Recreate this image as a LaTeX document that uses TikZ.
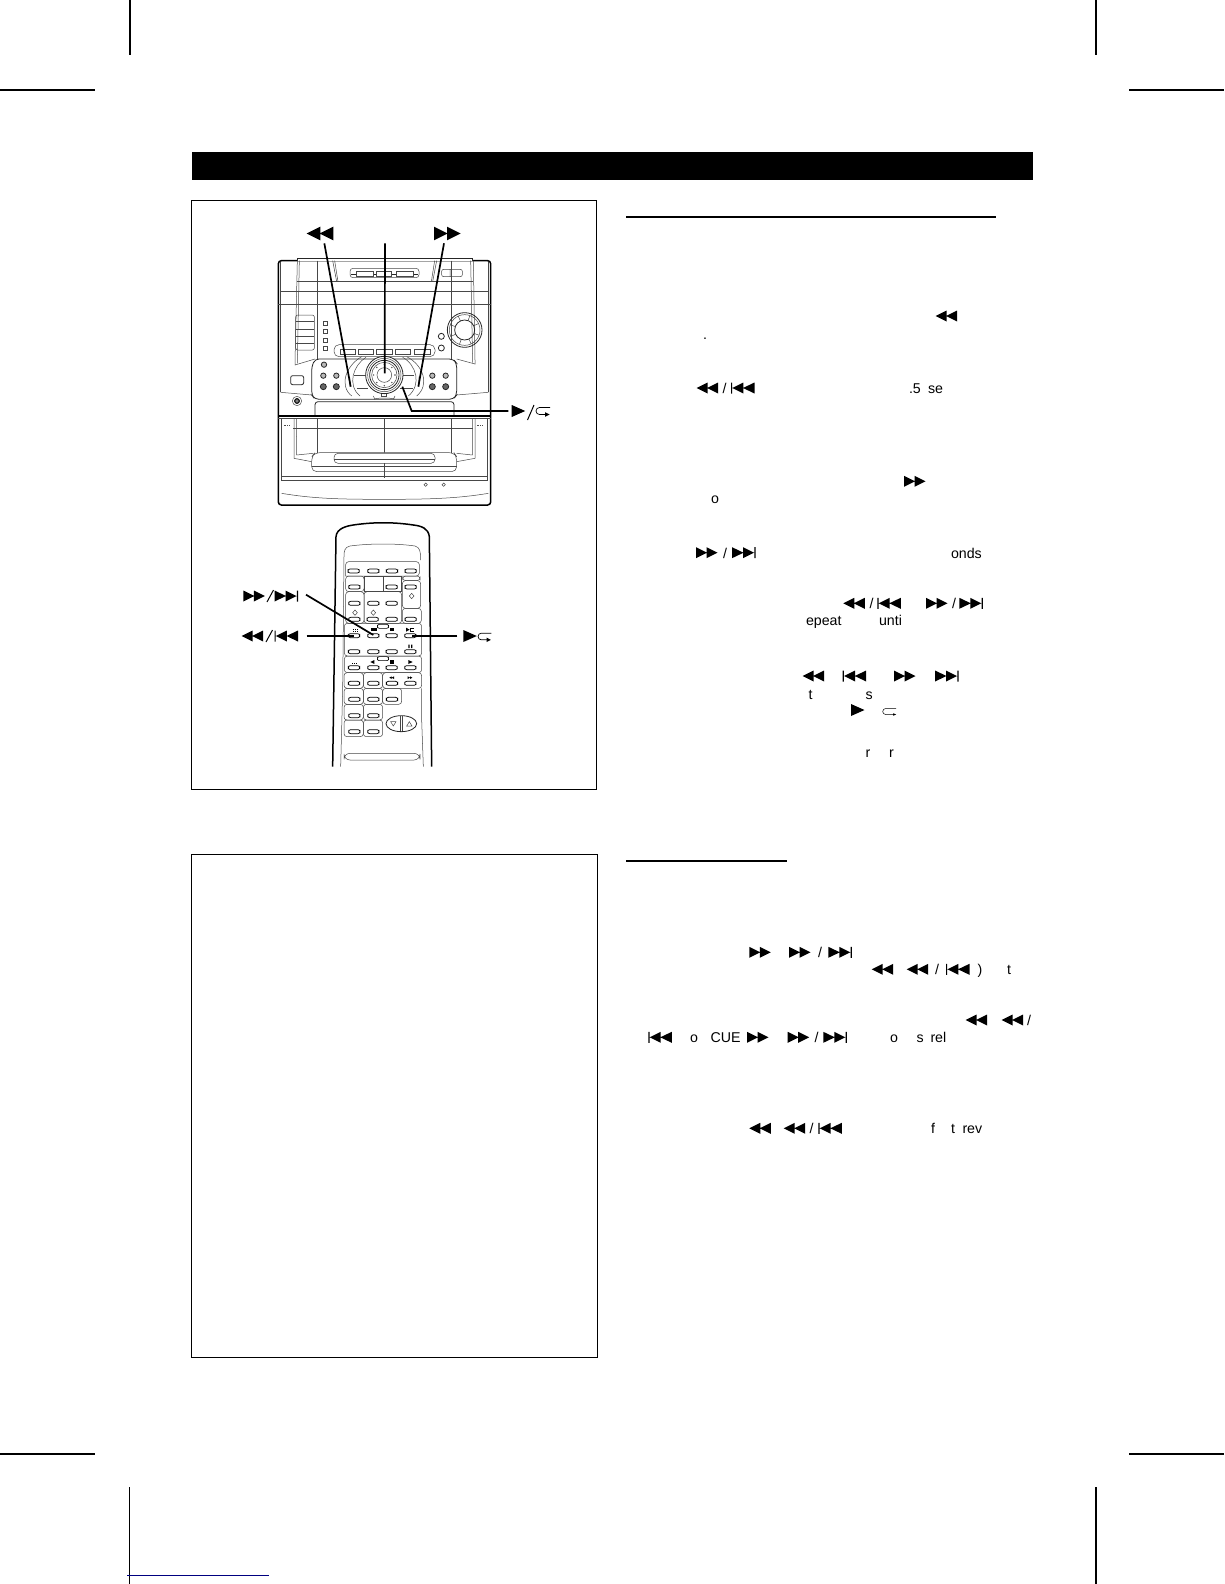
\documentclass[tikz,border=0pt]{standalone}
\usepackage{fontspec}
\setmainfont{Liberation Sans}
\tikzset{
  txt/.style={anchor=base west,inner sep=0pt,outer sep=0pt,font=\fontsize{14.2}{16}\selectfont},
  thin line/.style={line width=.5pt,black!72},
  mid line/.style={line width=.8pt,black!85},
  heavy line/.style={line width=1.5pt,black},
  leader/.style={line width=1.7pt,black},
  mark line/.style={line width=1.3pt,black},
  frame line/.style={line width=1pt,black},
  rew/.pic={\fill (0,0)--(11,-5.5)--(11,5.5)--cycle (10.5,0)--(21.5,-5.5)--(21.5,5.5)--cycle;},
  ffw/.pic={\fill (0,-5.5)--(11,0)--(0,5.5)--cycle (10.5,-5.5)--(21.5,0)--(10.5,5.5)--cycle;},
  prv/.pic={\fill (0,-5.5) rectangle (1.2,5.5) (1.4,0)--(12.4,-5.5)--(12.4,5.5)--cycle (12,0)--(23.5,-5.5)--(23.5,5.5)--cycle;},
  nxt/.pic={\fill (0,-5.5)--(11.5,0)--(0,5.5)--cycle (11,-5.5)--(22,0)--(11,5.5)--cycle (22.3,-5.5) rectangle (23.5,5.5);},
  ply/.pic={\fill (0,-6)--(13.5,0)--(0,6)--cycle;},
  lop/.pic={\draw[line width=.7pt] (13.5,-3.5)--(3,-3.5) arc[start angle=270,end angle=90,radius=3.5]--(9,3.5);\fill (8.5,1.2)--(13,3.5)--(8.5,5.8)--cycle;},
  tinylop/.pic={\draw[line width=.5pt] (13.5,-3)--(3,-3) arc[start angle=270,end angle=90,radius=3]--(11,3);\fill (10.5,1.8)--(13.5,3)--(10.5,4.2)--cycle;},
}
\begin{document}
\begin{tikzpicture}[x=1pt,y=-1pt]
\useasboundingbox (0,0) rectangle (1224,1584);
\fill[white] (0,0) rectangle (1224,1584);
% crop marks
\draw[mark line] (130,0)--(130,55) (1096,0)--(1096,55) (0,90)--(95,90) (1129,90)--(1224,90);
\draw[mark line] (0,1454)--(95,1454) (1129,1454)--(1224,1454) (129.5,1487)--(129.5,1584) (1096,1487)--(1096,1584);
\draw[line width=1pt,color={rgb,255:red,0;green,0;blue,128}] (127,1575)--(269,1575);
% title bar, frames, rules
\fill (192,151.5) rectangle (1033,180);
\draw[frame line] (191.5,200) rectangle (596.5,789);
\draw[frame line] (191.5,854) rectangle (597.5,1357);
\draw[line width=2pt] (626,216.5)--(996,216.5);
\draw[line width=2pt] (626,861)--(787,861);

% ===== main unit (coordinates of a 3x view) =====
\begin{scope}[shift={(260,210)},x=.33333pt,y=-.33333pt]
\draw[heavy line,rounded corners=3pt] (55,885) rectangle (692,152);
\draw[mid line,fill=white] (113,152)--(113,144)--(637,144)--(637,152);
\draw[thin line] (62,155)--(62,545) (685,155)--(685,545);
\draw[thin line] (112,152)--(105,455)--(105,465)--(165,447) (640,152)--(645,450)--(645,462)--(590,447);
\draw[thin line] (118,152)--(112,460) (632,152)--(638,458);
\draw[thin line] (62,243)--(685,243) (110,215)--(640,215) (55,283)--(692,283);
\draw[thin line] (172,152)--(172,447) (573,152)--(573,447);
\draw[thin line] (218,152)--(230,215) (224,152)--(234,215) (530,152)--(518,215) (524,152)--(514,215);
\draw[thin line,rounded corners=3pt,fill=white] (270,175) rectangle (477,203);
\draw[mid line] (272,192)--(475,192);
\foreach \a/\b in {290/340,348/395,408/460}{\draw[thin line,fill=white] (\a,185) rectangle (\b,200);}
\draw[thin line,rounded corners=2pt] (545,178) rectangle (607,200) (570,178)--(570,200);
\draw[thin line,rounded corners=2pt] (107,315) rectangle (163,420);
\draw[thin line] (107,335)--(163,335) (107,357)--(163,357) (107,380)--(163,380) (107,400)--(163,400);
\foreach \y in {340,365,390,416}{\draw[thin line] (190,\y-6) rectangle (203,\y+6);}
% knob and small knobs
\draw[mid line] (614,360) circle[radius=52];
\draw[thin line] (614,360) circle[radius=46];
\draw[mid line] (614,360) circle[radius=30];
\foreach \a in {20,65,...,360}{\draw[thin line] (614,360)++(\a:30)--++(\a:16);}
\draw[mid line] (544,379) circle[radius=9] (544,414) circle[radius=9];
% button strip
\draw[thin line,rounded corners=5pt,fill=white] (222,404) rectangle (525,440);
\foreach \a/\b in {240/285,295/340,350/397,407/452,463/510}{\draw[thin line] (\a,418) rectangle (\b,432);}
% control panel
\draw[mid line,fill=white,rounded corners=4pt] (165,447)--(580,447)--(590,460)--(590,555)--(580,568)--(165,568)--(155,555)--(155,470)--cycle;
\draw[thin line] (62,547)--(155,555) (590,555)--(685,547);
% side buttons
\foreach \x/\y in {192/464,190/497,229/497,517/497,557/497}{\draw[mid line,fill=gray!55] (\x,\y) circle[radius=8];}
\foreach \x/\y in {190/530,229/530,517/530,557/530}{\draw[mid line,fill=gray!80!black] (\x,\y) circle[radius=9];}
% central jog
\draw[thin line] (305,440) .. controls (260,465) and (235,525) .. (275,558);
\draw[thin line] (318,442) .. controls (280,465) and (260,525) .. (300,558);
\draw[thin line] (440,440) .. controls (490,465) and (510,525) .. (470,558);
\draw[thin line] (428,442) .. controls (470,465) and (485,525) .. (445,558);
\draw[thin line] (283,497)--(318,497) (430,497)--(462,497) (290,535)--(325,535) (420,535)--(460,535);
\draw[line width=1.2pt,gray] (268,500)--(271,530) (478,500)--(476,530);
\draw[thin line] (340,558)--(345,568) (405,558)--(400,568) (343,568) arc[start angle=180,end angle=360,x radius=30,y radius=4];
\draw[thin line] (365,540) rectangle (380,558);
\draw[mid line,fill=white] (373,495) circle[radius=56];
\draw[thin line] (373,495) circle[radius=50];
\draw[mid line] (373,495) circle[radius=44];
\draw[thin line] (373,495) circle[radius=38];
\foreach \a in {0,45,...,359}{\fill[black!70] (373,495)++(\a:32) circle[radius=2.4];}
\draw[thin line,fill=white] (373,495) circle[radius=22];
% square + phones
\draw[mid line,rounded corners=2pt] (92,497) rectangle (131,524);
\draw[thin line] (111,573) circle[radius=14];
\draw[line width=1pt,fill=gray] (111,573) circle[radius=7];
% slot
\draw[mid line,rounded corners=3pt] (165,620)--(165,575)--(582,575)--(582,620);
\draw[line width=1.3pt] (55,618)--(692,618);
\draw[thin line] (55,626)--(692,626);
% lower part
\draw[thin line] (65,626)--(65,812) (683,626)--(683,812) (65,812)--(683,812) (65,800)--(683,800);
\draw[thin line] (172,626)--(172,730) (573,626)--(573,730) (373,626)--(373,803);
\draw[thin line] (100,655)--(640,655);
\draw[thin line] (102,626)--(102,745) (109,626)--(110,735) (645,626)--(645,745) (637,626)--(637,735);
\draw[thin line] (110,735)--(160,730) (102,745)--(155,755) (637,735)--(590,730) (645,745)--(590,755);
\draw[thin line,rounded corners=5pt,fill=white] (155,785)--(155,740)--(165,728)--(582,728)--(590,740)--(590,785)--cycle;
\draw[thin line,rounded corners=4pt,fill=white] (222,730) rectangle (525,760);
\draw[thin line] (223,748)--(524,748);
\draw[thin line] (373,760)--(373,803) (155,770)--(590,770);
\draw[thin line] (65,850) .. controls (160,866) and (240,868) .. (373,868) .. controls (500,868) and (590,866) .. (685,850);
\draw[thin line] (497,824) circle[radius=5] (551,824) circle[radius=5];
\foreach \x in {73,80,87}{\fill[black!70] (\x,644) rectangle ++(4,5);}
\foreach \x in {652,659,666}{\fill[black!70] (\x,644) rectangle ++(4,5);}
% leader lines
\coordinate (lr0) at (193,100); \coordinate (lr1) at (272,530);
\coordinate (lc0) at (375,100); \coordinate (lc1) at (374,490);
\coordinate (lf0) at (552,100); \coordinate (lf1) at (475,530);
\coordinate (lp0) at (745,603); \coordinate (lp1) at (455,603); \coordinate (lp2) at (427,530);
\draw[leader] (lr0)--(lr1);
\draw[leader] (lc0)--(lc1);
\draw[leader] (lf0)--(lf1);
\draw[leader] (lp0)--(lp1)--(lp2);
\end{scope}
% labels of the main unit
\pic[scale=1.24] at (306.7,233.5) {rew};
\pic[scale=1.24] at (434,233.5) {ffw};
\pic at (511.7,411) {ply};
\draw[line width=1pt] (527.5,420)--(534,405);
\pic at (536.5,411) {lop};

% ===== remote control =====
\begin{scope}[shift={(230,520)},x=.33333pt,y=-.33333pt]
\draw[line width=1.5pt] (308,740)--(318,50) .. controls (320,25) and (350,18) .. (370,15) .. controls (430,6) and (490,6) .. (550,15) .. controls (575,18) and (595,25) .. (598,50) -- (605,740);
\draw[thin line] (332,740)--(338,510)--(342,110) .. controls (342,90) and (345,82) .. (360,78) .. controls (420,70) and (500,70) .. (555,78) .. controls (570,82) and (572,95) .. (572,120);
\draw[thin line] (575,505)--(575,600)--(580,740);
\draw[thin line,rounded corners=3pt] (347,168)--(347,125)--(568,125)--(568,168)--(347,168);
\draw[thin line,rounded corners=3pt] (347,168) rectangle (402,215);
\draw[thin line] (402,168) rectangle (460,215);
\draw[thin line] (460,168) rectangle (515,215);
\draw[thin line,rounded corners=3pt] (402,215) rectangle (515,310);
\draw[thin line,rounded corners=3pt] (347,215) rectangle (402,310);
\draw[thin line,rounded corners=3pt] (517,182) rectangle (572,265);
\draw[thin line,rounded corners=3pt] (517,265) rectangle (574,310);
\draw[thin line,rounded corners=3pt] (518,168) rectangle (570,182);
\draw[thin line,rounded corners=3pt] (343,310) rectangle (575,408);
\draw[thin line,rounded corners=3pt] (343,408) rectangle (575,458);
\draw[thin line,rounded corners=3pt] (342,458) rectangle (400,505);
\draw[thin line,rounded corners=3pt] (400,458) rectangle (458,505);
\draw[thin line,rounded corners=3pt] (458,458) rectangle (575,505);
\draw[thin line,rounded corners=3pt] (342,505) rectangle (400,553);
\draw[thin line,rounded corners=3pt] (400,505) rectangle (458,553);
\draw[thin line,rounded corners=3pt] (458,505) rectangle (515,553);
\draw[thin line,rounded corners=3pt] (342,553) rectangle (400,600);
\draw[thin line,rounded corners=3pt] (400,553) rectangle (458,600);
\draw[thin line,rounded corners=3pt] (342,600) rectangle (400,650);
\draw[thin line,rounded corners=3pt] (400,600) rectangle (458,650);
\draw[thin line,rounded corners=6pt] (342,700) rectangle (570,720);
\foreach \x/\y in {371/153,430/153,486/153,542/153,
  373/201,485/201,542/201,
  373/250,430/250,485/250,
  373/298,428/298,485/298,542/298,
  372/347,430/347,485/347,541/347,
  372/395,430/395,485/395,541/395,
  372/443,430/443,485/443,541/443,
  372/490,430/490,486/490,541/490,
  373/538,430/538,486/538,
  373/587,430/587,
  373/635,430/635}{
  \draw[line width=.7pt,fill=white,rounded corners=2pt] (\x-17,\y-6) rectangle (\x+17,\y+6);
}
\draw[line width=.6pt,fill=white,rounded corners=2pt] (442,313) rectangle (476,325);
\draw[line width=.6pt,fill=white,rounded corners=2pt] (442,410) rectangle (476,422);
\foreach \x/\y in {545/228,375/278,430/278}{\draw[thin line] (\x-7,\y)--(\x,\y-8)--(\x+7,\y)--(\x,\y+8)--cycle;}
% small key marks
\foreach \x/\y in {375/334,430/330,372/430}{
  \foreach \d in {-6,0,6}{\fill (\x+\d,\y-2) rectangle ++(3.5,3.5);}
}
\foreach \d in {-6,0,6}{\fill (375+\d,327) rectangle ++(3.5,3);\fill (430+\d,323) rectangle ++(3.5,3);}
\fill (481,324) rectangle (491,334);
\fill (481,421) rectangle (491,431);
\fill (528,323)--(539,329)--(528,335)--cycle;
\draw[line width=.5pt] (552,325)--(542,325)--(542,333)--(552,333);
\fill (535,374) rectangle (539,384) (543,374) rectangle (547,384);
\fill (433,420)--(421,426)--(433,432)--cycle;
\fill (535,420)--(548,426)--(535,432)--cycle;
\fill (478,473)--(485,469)--(485,477)--cycle (485,473)--(492,469)--(492,477)--cycle;
\fill (533,469)--(540,473)--(533,477)--cycle (540,469)--(547,473)--(540,477)--cycle;
% up/down rocker
\draw[mid line,fill=white] (514,611) ellipse[x radius=46,y radius=24];
\draw[thin line] (510,588)--(510,634) (516,588)--(516,634);
\draw[thin line] (482,605)--(498,605)--(490,618)--cycle;
\draw[thin line] (530,618)--(546,618)--(538,605)--cycle;
% leaders
\coordinate (ln0) at (228,224); \coordinate (ln1) at (430,345);
\coordinate (lb0) at (230,348); \coordinate (lb1) at (372,348);
\coordinate (lq0) at (682,348); \coordinate (lq1) at (545,348);
\draw[leader] (ln0)--(ln1);
\draw[leader] (lb0)--(lb1);
\draw[leader] (lq0)--(lq1);
\end{scope}
\pic at (243.3,596) {ffw};
\draw[line width=1pt] (267,602)--(273.5,590);
\pic at (274.5,596) {nxt};
\pic at (241.7,636) {rew};
\draw[line width=1pt] (266,642)--(272.5,630);
\pic at (274.5,636) {prv};
\pic at (463.3,636) {ply};
\pic[scale=.95] at (478.5,636.5) {lop};

% ===== text column, upper =====
\pic at (935.7,316) {rew};
\node (tdot) [txt] at (703,339.5) {.};
\pic at (696.7,388) {rew};
\node (ts1) [txt] at (722.5,393) {/};
\pic at (731,388) {prv};
\node (t5) [txt] at (909,393) {.5};
\node (tse) [txt] at (928,393) {se};
\pic at (904,481.3) {ffw};
\node (to1) [txt] at (711,503.5) {o};
\pic at (696,552.7) {ffw};
\node (ts2) [txt] at (723,558) {/};
\pic at (732,552.7) {nxt};
\node (tonds) [txt] at (951,558) {onds};
\pic at (843.3,603.3) {rew};
\node (ts3) [txt] at (869.5,608.5) {/};
\pic at (877.3,603.3) {prv};
\pic at (926,603.3) {ffw};
\node (ts4) [txt] at (952,608.5) {/};
\pic at (959.3,603.3) {nxt};
\node (tepeat) [txt] at (806,625.5) {epeat};
\node (tunti) [txt] at (879,625.5) {unti};
\pic at (802.7,676) {rew};
\pic at (842.7,676) {prv};
\pic at (894,676) {ffw};
\pic at (935,676) {nxt};
\node (tt1) [txt] at (808.5,699) {t};
\node (tss) [txt] at (865.5,699) {s};
\pic at (851,710) {ply};
\pic at (882.7,711.5) {tinylop};
\node (tr1) [txt] at (865.5,757.5) {r};
\node (tr2) [txt] at (889,757.5) {r};

% ===== text column, lower =====
\pic at (749.3,952.3) {ffw};
\pic at (789,952.3) {ffw};
\node (ts5) [txt] at (818,957.5) {/};
\pic at (828.3,952.3) {nxt};
\pic at (871.7,969.3) {rew};
\pic at (906.7,969.3) {rew};
\node (ts6) [txt] at (935,974.5) {/};
\pic at (946,969.3) {prv};
\node (tp) [txt] at (977.5,974.5) {)};
\node (tt2) [txt] at (1007,974.5) {t};
\pic at (965.7,1020) {rew};
\pic at (1001.7,1020) {rew};
\node (ts7) [txt] at (1027,1025) {/};
\pic at (648.3,1037.3) {prv};
\node (to2) [txt] at (690,1042.7) {o};
\node (tcue) [txt] at (710.5,1042.7) {CUE};
\pic at (747,1037.3) {ffw};
\pic at (787.7,1037.3) {ffw};
\node (ts8) [txt] at (814.5,1042.7) {/};
\pic at (823.3,1037.3) {nxt};
\node (to3) [txt] at (890,1042.7) {o};
\node (ts9) [txt] at (916.5,1042.7) {s};
\node (trel) [txt] at (930.5,1042.7) {rel};
\pic at (749.3,1128.3) {rew};
\pic at (783.7,1128.3) {rew};
\node (ts10) [txt] at (809.5,1133.5) {/};
\pic at (818.3,1128.3) {prv};
\node (tf) [txt] at (931,1133.5) {f};
\node (tt3) [txt] at (951,1133.5) {t};
\node (trev) [txt] at (962.5,1133.5) {rev};
\end{tikzpicture}
\end{document}
